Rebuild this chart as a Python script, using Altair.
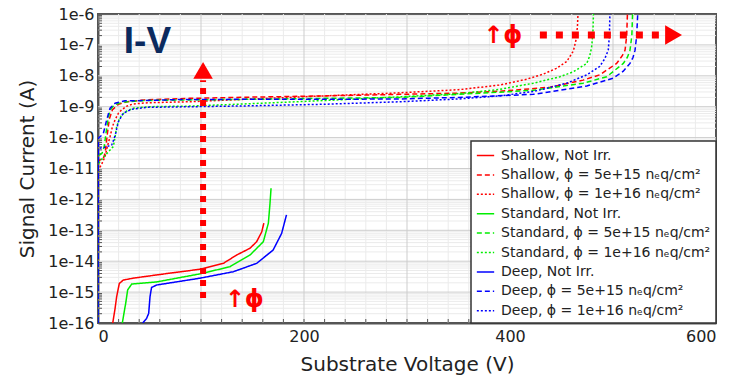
import altair as alt
import pandas as pd

# ---------------- data ----------------
series_names = [
    "Shallow, Not Irr.",
    "Shallow, ϕ = 5e+15 nₑq/cm²",
    "Shallow, ϕ = 1e+16 nₑq/cm²",
    "Standard, Not Irr.",
    "Standard, ϕ = 5e+15 nₑq/cm²",
    "Standard, ϕ = 1e+16 nₑq/cm²",
    "Deep, Not Irr.",
    "Deep, ϕ = 5e+15 nₑq/cm²",
    "Deep, ϕ = 1e+16 nₑq/cm²",
]
series_colors = ["#ff0000", "#ff0000", "#ff0000",
                 "#00ee00", "#00ee00", "#00ee00",
                 "#0000ff", "#0000ff", "#0000ff"]
series_dash = [[1, 0], [5, 3], [2, 2]] * 3

# voltages (V) and log10 of current (A)
shallow_0_v = [14.3, 16.5, 18.1, 20.7, 24.6, 34, 60, 99, 121.7, 134.6, 147.6, 154, 159, 161]
shallow_0_logi = [-16, -15.55, -15.15, -14.72, -14.61, -14.55, -14.43, -14.26, -14.07, -13.8, -13.58, -13.37, -13.05, -12.77]

shallow_5_v = [0, 0.3, 5, 7, 9, 11, 14, 20, 28, 45, 89, 150, 220, 293, 350, 390, 438.8, 471, 487, 503.5, 509, 511.7, 513.3, 514]
shallow_5_logi = [-16, -10.75, -10.68, -10.5, -9.9, -9.4, -9.1, -8.92, -8.84, -8.78, -8.73, -8.69, -8.65, -8.60, -8.56, -8.5, -8.37, -8.14, -7.97, -7.6, -7.35, -7.17, -6.7, -6.0]

shallow_10_v = [0, 0.3, 3, 6.8, 9, 11.7, 14, 16.5, 20, 23, 28, 34.3, 50, 89, 150, 220, 293, 350, 390, 415, 432, 445, 455, 461.5, 464, 465.5, 466]
shallow_10_logi = [-16, -11.05, -10.9, -10.62, -10.3, -9.97, -9.65, -9.43, -9.2, -9.1, -8.98, -8.91, -8.87, -8.84, -8.75, -8.65, -8.55, -8.45, -8.3, -8.12, -7.95, -7.76, -7.54, -7.2, -6.85, -6.4, -6.0]

standard_0_v = [23.6, 26.9, 28.8, 32.7, 57, 99, 128, 147.6, 160.5, 165.4, 167, 168]
standard_0_logi = [-16, -15.36, -14.93, -14.74, -14.67, -14.41, -14.18, -13.8, -13.37, -12.77, -12.13, -11.64]

standard_5_v = [0, 0.3, 4, 6, 8, 10, 12, 16, 25, 45, 89, 150, 220, 293, 350, 422.6, 471, 493.9, 510, 514, 516.5, 518.3, 519]
standard_5_logi = [-16, -10.6, -10.5, -10.3, -9.8, -9.35, -9.1, -8.93, -8.85, -8.8, -8.78, -8.76, -8.73, -8.70, -8.6, -8.47, -8.24, -8.03, -7.6, -7.4, -7.17, -6.7, -6.0]

standard_10_v = [0, 0.3, 5, 10, 14.9, 16.5, 18.1, 20.5, 23, 28, 34.3, 50, 89, 150, 220, 293, 350, 390, 422.6, 448.5, 461.5, 474.5, 477.5, 479.3, 480.5, 481]
standard_10_logi = [-16, -10.85, -10.65, -10.46, -10.29, -10.0, -9.65, -9.42, -9.27, -9.14, -9.05, -9.0, -8.98, -8.9, -8.8, -8.68, -8.58, -8.44, -8.24, -8.03, -7.87, -7.6, -7.35, -7.06, -6.6, -6.0]

deep_0_v = [43.4, 47.2, 49.2, 50.5, 52, 57, 99, 131.4, 154, 170, 178.3, 183]
deep_0_logi = [-16, -15.85, -15.69, -15.15, -14.85, -14.77, -14.55, -14.34, -14.07, -13.64, -13.1, -12.5]

deep_5_v = [0, 0.3, 5.1, 8.4, 11.7, 16.5, 26.2, 45.6, 78, 150, 220, 293, 350, 422.6, 474.5, 500, 510, 516.5, 519.5, 521.4, 523, 524]
deep_5_logi = [-16, -10.02, -9.88, -9.43, -9.05, -8.89, -8.81, -8.8, -8.77, -8.76, -8.76, -8.75, -8.7, -8.6, -8.33, -8.08, -7.85, -7.6, -7.4, -7.17, -6.7, -6.0]

deep_10_v = [0, 0.3, 6.8, 13.3, 15.5, 17.2, 19.7, 24.6, 32.7, 48.8, 94, 150, 220, 293, 350, 390, 422.6, 455, 474.5, 487, 492, 495.4, 496.5, 497]
deep_10_logi = [-16, -10.35, -10.31, -10.24, -10.05, -9.86, -9.49, -9.21, -9.08, -9.02, -9.0, -8.97, -8.92, -8.84, -8.75, -8.65, -8.51, -8.24, -7.97, -7.7, -7.45, -7.17, -6.7, -6.0]

curves = [
    (shallow_0_v, shallow_0_logi), (shallow_5_v, shallow_5_logi), (shallow_10_v, shallow_10_logi),
    (standard_0_v, standard_0_logi), (standard_5_v, standard_5_logi), (standard_10_v, standard_10_logi),
    (deep_0_v, deep_0_logi), (deep_5_v, deep_5_logi), (deep_10_v, deep_10_logi),
]

# axis ticks / grid positions
x_tick_labels = [0, 200, 400, 600]
x_major_grid = [100, 200, 300, 400, 500]
x_minor_grid = [20, 40, 60, 80, 120, 140, 160, 180, 220, 240, 260, 280, 320, 340, 360, 380,
                420, 440, 460, 480, 520, 540, 560, 580]
y_decades = [1e-16, 1e-15, 1e-14, 1e-13, 1e-12, 1e-11, 1e-10, 1e-9, 1e-8, 1e-7, 1e-6]
y_minor_grid = [m * d for d in y_decades[:-1] for m in [2, 3, 4, 5, 6, 7, 8, 9]]

# annotations (data coordinates)
iv_label = ["I-V"]
iv_pos = (48, 10 ** -6.906)
phi_label = "↑ϕ"
phi_pos = [(393, 10 ** -6.71), (142, 10 ** -15.26)]
vert_arrow_v = [102, 102]
vert_arrow_i = [10 ** -15.19, 10 ** -8.14]
vert_head = (102, 10 ** -7.825)
horiz_arrow_v = [429, 549]
horiz_arrow_i = [10 ** -6.68, 10 ** -6.68]
horiz_head = (558.8, 10 ** -6.68)

# ---------------- build tables ----------------
rows = []
for name, (vs, ls) in zip(series_names, curves):
    for k, (v, l) in enumerate(zip(vs, ls)):
        rows.append({"V": v, "I": 10 ** l, "series": name, "k": k})
df = pd.DataFrame(rows)

FONT = "DejaVu Sans"
XS = alt.Scale(domain=[0, 600], nice=False, zero=False)
YS = alt.Scale(type="log", domain=[1e-16, 1e-6], nice=False)
X_AX = alt.Axis(values=x_tick_labels, title="Substrate Voltage (V)", grid=False,
                ticks=False, labelPadding=5, titlePadding=10, format="d")
Y_AX = alt.Axis(values=y_decades, format=".0e", title="Signal Current (A)", grid=False,
                ticks=False, labelPadding=4, titlePadding=10)


def xq(field):
    return alt.X(f"{field}:Q", scale=XS, axis=X_AX, title="Substrate Voltage (V)")


def yq(field):
    return alt.Y(f"{field}:Q", scale=YS, axis=Y_AX, title="Signal Current (A)")


grid_minor_x = alt.Chart(pd.DataFrame({"V": x_minor_grid})).mark_rule(
    color="#ebebeb", strokeWidth=1).encode(x=xq("V"))
grid_major_x = alt.Chart(pd.DataFrame({"V": x_major_grid})).mark_rule(
    color="#cdcdcd", strokeWidth=1).encode(x=xq("V"))
grid_minor_y = alt.Chart(pd.DataFrame({"I": y_minor_grid})).mark_rule(
    color="#ebebeb", strokeWidth=1).encode(y=yq("I"))
grid_major_y = alt.Chart(pd.DataFrame({"I": y_decades[1:-1]})).mark_rule(
    color="#cdcdcd", strokeWidth=1).encode(y=yq("I"))

ticks_x = alt.Chart(pd.DataFrame({"V": x_minor_grid + x_major_grid})).mark_rule(
    color="#555", strokeWidth=1).encode(x=xq("V"), y=alt.value(309), y2=alt.value(305))
ticks_y = alt.Chart(pd.DataFrame({"I": y_minor_grid})).mark_rule(
    color="#555", strokeWidth=1).encode(y=yq("I"), x=alt.value(0), x2=alt.value(4))

lines = alt.Chart(df).mark_line(strokeWidth=1.5, clip=True).encode(
    x=xq("V"),
    y=yq("I"),
    color=alt.Color("series:N", scale=alt.Scale(domain=series_names, range=series_colors),
                    legend=alt.Legend(title=None, orient="bottom-right", offset=0)),
    strokeDash=alt.StrokeDash("series:N", scale=alt.Scale(domain=series_names, range=series_dash),
                              legend=alt.Legend(title=None, orient="bottom-right", offset=0)),
    order="k:Q",
)

vline = alt.Chart(pd.DataFrame({"V": vert_arrow_v, "I": vert_arrow_i})).mark_line(
    color="#ff0000", strokeWidth=6, strokeDash=[6, 6]).encode(x=xq("V"), y=yq("I"))
hline = alt.Chart(pd.DataFrame({"V": horiz_arrow_v, "I": horiz_arrow_i})).mark_line(
    color="#ff0000", strokeWidth=7, strokeDash=[7, 9]).encode(x=xq("V"), y=yq("I"))
vhead = alt.Chart(pd.DataFrame({"V": [vert_head[0]], "I": [vert_head[1]]})).mark_point(
    shape="triangle-up", size=380, filled=True, color="#ff0000", opacity=1).encode(x=xq("V"), y=yq("I"))
hhead = alt.Chart(pd.DataFrame({"V": [horiz_head[0]], "I": [horiz_head[1]]})).mark_point(
    shape="triangle-right", size=380, filled=True, color="#ff0000", opacity=1).encode(x=xq("V"), y=yq("I"))

iv_text = alt.Chart(pd.DataFrame({"V": [iv_pos[0]], "I": [iv_pos[1]], "t": iv_label})).mark_text(
    font="Liberation Sans", fontWeight="bold", fontSize=37, color="#0b2a5e",
    align="center", baseline="middle").encode(x=xq("V"), y=yq("I"), text="t:N")
phi_text = alt.Chart(pd.DataFrame({"V": [p[0] for p in phi_pos], "I": [p[1] for p in phi_pos],
                                   "t": [phi_label, phi_label]})).mark_text(
    font=FONT, fontWeight="bold", fontSize=24, color="#ff0000",
    align="center", baseline="middle").encode(x=xq("V"), y=yq("I"), text="t:N")

chart = alt.layer(
    grid_minor_x, grid_minor_y, grid_major_x, grid_major_y, ticks_x, ticks_y,
    lines, vline, hline, vhead, hhead, iv_text, phi_text
).properties(
    width=618, height=309,
    autosize=alt.AutoSizeParams(type="none"),
    padding={"left": 98, "top": 14, "right": 27, "bottom": 53},
    background="white",
).configure_view(
    stroke="#555", strokeWidth=2
).configure_axis(
    labelFont=FONT, titleFont=FONT, labelFontSize=16, titleFontSize=20,
    labelColor="#222", titleColor="#222", titleFontWeight="normal",
    domainColor="#555", domainWidth=2,
).configure_legend(
    labelFont=FONT, labelFontSize=14, labelColor="#222", labelLimit=400,
    symbolType="stroke", symbolSize=300, symbolStrokeWidth=1.5,
    fillColor="white", strokeColor="#333", strokeWidth=1.5,
    padding=5, rowPadding=2.4, labelOffset=6, cornerRadius=0,
)

chart.save("out.html", embed_options={"renderer": "svg", "actions": False})
